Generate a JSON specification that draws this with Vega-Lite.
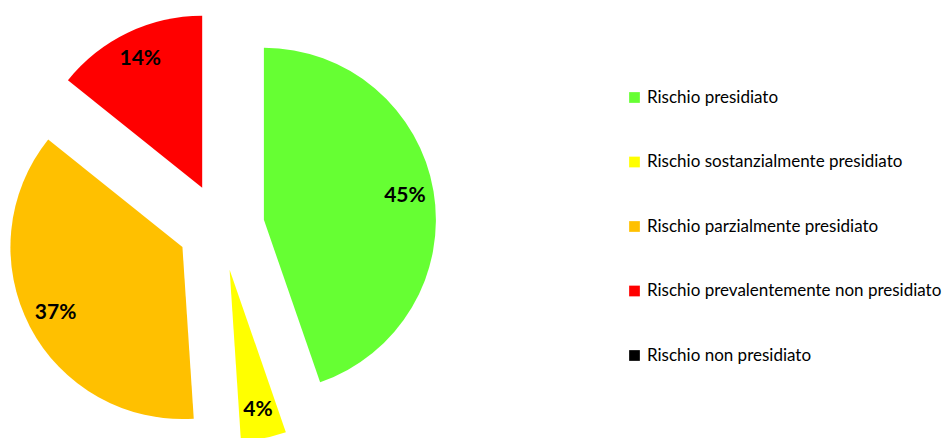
{
  "$schema": "https://vega.github.io/schema/vega-lite/v6.json",
  "width": 432,
  "height": 424,
  "padding": {"left": 5, "top": 11, "right": 0, "bottom": 0},
  "background": "white",
  "view": {"stroke": null},
  "data": {
    "values": [
      {"categoria": "Rischio presidiato", "percentuale": 44.7},
      {"categoria": "Rischio sostanzialmente presidiato", "percentuale": 4.25},
      {"categoria": "Rischio parzialmente presidiato", "percentuale": 36.8},
      {"categoria": "Rischio prevalentemente non presidiato", "percentuale": 14.25},
      {"categoria": "Rischio non presidiato", "percentuale": 0}
    ]
  },
  "transform": [
    {"window": [{"op": "sum", "field": "percentuale", "as": "fine"}], "frame": [null, 0]},
    {"calculate": "datum.fine - datum.percentuale", "as": "inizio"},
    {"calculate": "datum.fine - datum.percentuale / 2", "as": "mezzo"},
    {"calculate": "format(datum.percentuale, '.0f') + '%'", "as": "etichetta"}
  ],
  "layer": [
    {
      "mark": {
        "type": "arc",
        "radius": 172,
        "xOffset": {"expr": "43.5 * sin(2 * PI * datum.mezzo / 100)"},
        "yOffset": {"expr": "-43.5 * cos(2 * PI * datum.mezzo / 100)"}
      },
      "encoding": {
        "theta": {"field": "inizio", "type": "quantitative", "stack": null, "scale": {"domain": [0, 100]}},
        "theta2": {"field": "fine"},
        "color": {
          "field": "categoria",
          "type": "nominal",
          "scale": {
            "domain": ["Rischio presidiato", "Rischio sostanzialmente presidiato", "Rischio parzialmente presidiato", "Rischio prevalentemente non presidiato", "Rischio non presidiato"],
            "range": ["#66FF33", "#FFFF00", "#FFC000", "#FF0000", "#000000"]
          },
          "legend": {
            "title": null,
            "orient": "none",
            "legendX": 621,
            "legendY": 74,
            "symbolType": "square",
            "symbolSize": 115,
            "symbolStrokeWidth": 0,
            "labelFont": "Lato",
            "labelFontSize": 17,
            "labelColor": "#000000",
            "labelOffset": 4,
            "rowPadding": 46.5,
            "labelLimit": 400
          }
        }
      }
    },
    {
      "transform": [{"filter": "datum.percentuale > 0"}],
      "mark": {
        "type": "text",
        "radius": 143,
        "font": "Lato",
        "fontWeight": "bold",
        "fontSize": 21,
        "color": "#000000",
        "xOffset": {"expr": "43.5 * sin(2 * PI * datum.mezzo / 100)"},
        "yOffset": {"expr": "-43.5 * cos(2 * PI * datum.mezzo / 100)"}
      },
      "encoding": {
        "theta": {"field": "mezzo", "type": "quantitative", "stack": null, "scale": {"domain": [0, 100]}},
        "text": {"field": "etichetta"}
      }
    }
  ]
}
